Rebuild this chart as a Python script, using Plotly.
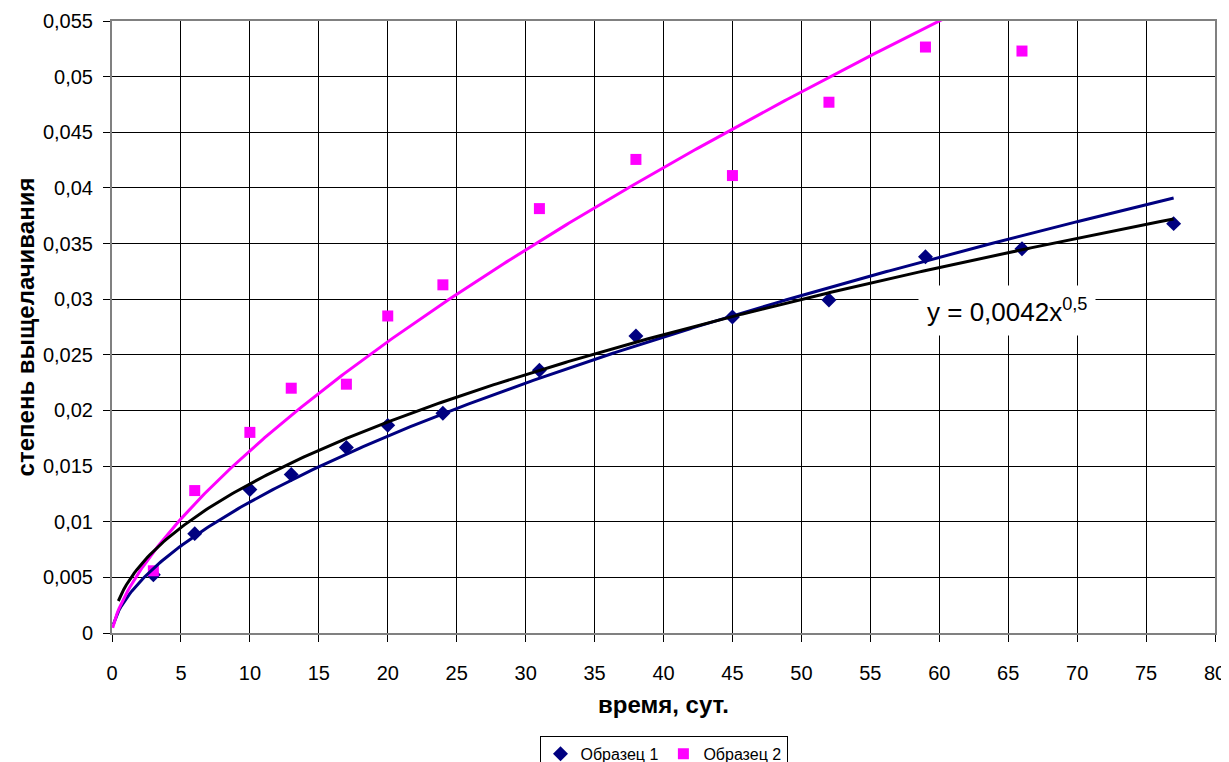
import numpy as np
import plotly.graph_objects as go

# Data
days = [3, 6, 10, 13, 17, 20, 24, 31, 38, 45, 52, 59, 66, 77]
sample1 = [0.00523, 0.00893, 0.01289, 0.01425, 0.01668, 0.01866, 0.01975,
           0.02362, 0.02669, 0.02840, 0.02993, 0.03381, 0.03453, 0.03679]
days2 = [3, 6, 10, 13, 17, 20, 24, 31, 38, 45, 52, 59, 66]
sample2 = [0.00559, 0.01280, 0.01803, 0.02200, 0.02236, 0.02849, 0.03129,
           0.03814, 0.04256, 0.04111, 0.04770, 0.05266, 0.05230]

# Power trend-line coefficients (y = a * x^b)
trend1_a, trend1_b = 0.00304, 0.588
trend2_a, trend2_b = 0.003455, 0.676
trend3_a, trend3_b = 0.00424, 0.5

names = ["Образец 1", "Образец 2"]
x_ticks = list(range(0, 85, 5))
y_ticks = [i * 0.005 for i in range(12)]
y_labels = ["0" if i == 0 else f"{i*0.005:.3f}".rstrip("0").replace(".", ",") for i in range(12)]

font = "Liberation Sans, Arial, sans-serif"

fig = go.Figure()
fig.add_trace(go.Scatter(x=days, y=sample1, mode="markers", name=names[0],
                         marker=dict(symbol="diamond", size=11.5, color="#000080")))
fig.add_trace(go.Scatter(x=days2, y=sample2, mode="markers", name=names[1],
                         marker=dict(symbol="square", size=11, color="#ff00ff")))

x1 = np.linspace(0.1, 77, 400)
fig.add_trace(go.Scatter(x=x1, y=trend1_a * x1 ** trend1_b, mode="lines", showlegend=False,
                         line=dict(color="#000080", width=3), hoverinfo="skip"))
x2 = np.linspace(0.05, 62, 400)
fig.add_trace(go.Scatter(x=x2, y=trend2_a * x2 ** trend2_b, mode="lines", showlegend=False,
                         line=dict(color="#ff00ff", width=3), hoverinfo="skip"))
x3 = np.linspace(0.46, 77, 400)
fig.add_trace(go.Scatter(x=x3, y=trend3_a * x3 ** trend3_b, mode="lines", showlegend=False,
                         line=dict(color="#000000", width=3), hoverinfo="skip"))

fig.add_annotation(x=64.9, y=0.0290, xref="x", yref="y", showarrow=False,
                   text="y = 0,0042x<sup>0,5</sup>", bgcolor="white",
                   font=dict(family=font, size=26, color="black"), borderpad=8)

# The page body has an 8px margin, so the figure is sized to fill the rest of the window
fig.update_layout(
    width=1221, height=754,
    margin=dict(l=104, r=14, t=13, b=128.5, autoexpand=False),
    paper_bgcolor="white", plot_bgcolor="white",
    font=dict(family=font, color="black"),
    showlegend=True,
    legend=dict(orientation="h", x=0.5, xanchor="center", y=-0.168, yanchor="top",
                bordercolor="black", borderwidth=1, font=dict(size=16, family=font),
                itemwidth=30, tracegroupgap=0),
)
fig.update_xaxes(range=[0, 80], tickvals=x_ticks, ticktext=[str(v) for v in x_ticks],
                 showgrid=True, gridcolor="#000000", gridwidth=1, automargin=False,
                 showline=True, linecolor="#808080", linewidth=2, mirror=True,
                 ticks="outside", ticklen=7, tickcolor="#000000", ticklabelstandoff=14,
                 tickfont=dict(size=20, family=font), zeroline=False,
                 title=dict(text="<b>время, сут.</b>", font=dict(size=24, family=font), standoff=13))
fig.update_yaxes(range=[0, 0.055], tickvals=y_ticks, ticktext=y_labels,
                 showgrid=True, gridcolor="#000000", gridwidth=1, automargin=False,
                 showline=True, linecolor="#808080", linewidth=2, mirror=True,
                 ticks="outside", ticklen=7, tickcolor="#000000", ticklabelstandoff=6,
                 tickfont=dict(size=20, family=font), zeroline=False,
                 title=dict(text="<b>степень выщелачивания</b>", font=dict(size=24, family=font), standoff=2))

fig.write_html("out.html")
